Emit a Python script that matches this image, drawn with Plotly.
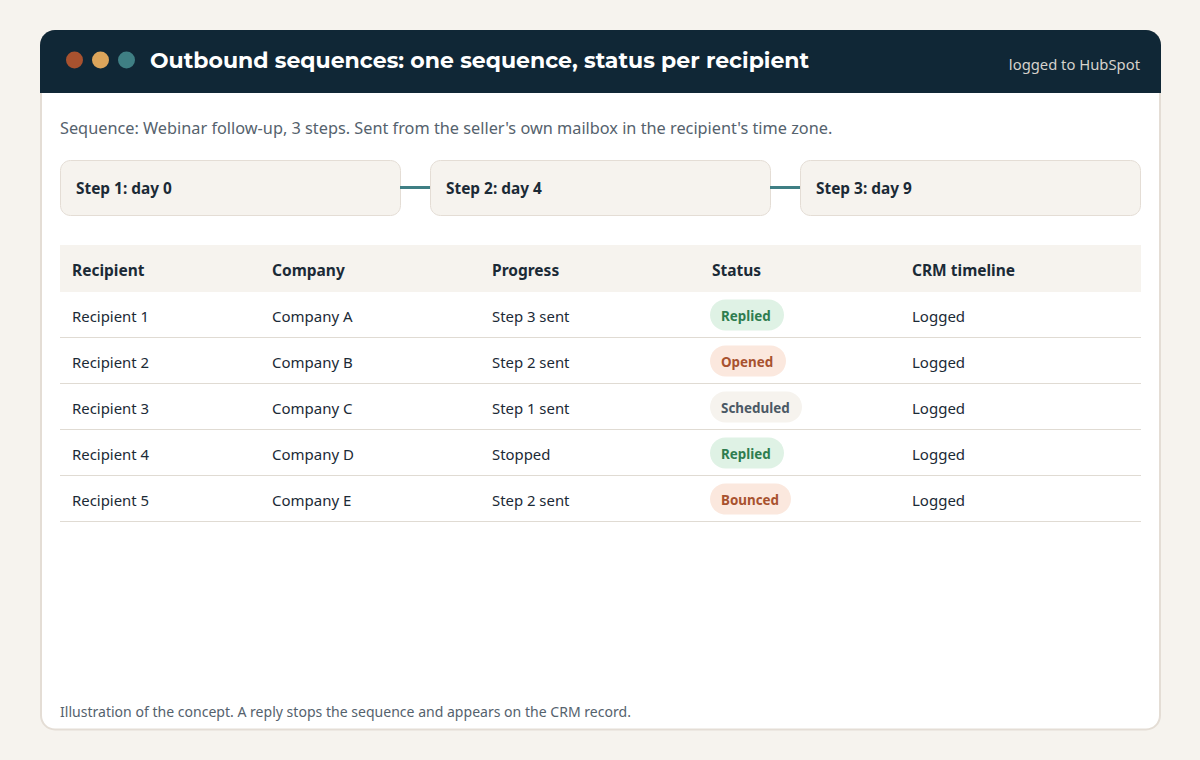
import plotly.graph_objects as go

TITLE = "Outbound sequences: one sequence, status per recipient"
BADGE = "logged to HubSpot"
SUBTITLE = "Sequence: Webinar follow-up, 3 steps. Sent from the seller's own mailbox in the recipient's time zone."
FOOTNOTE = "Illustration of the concept. A reply stops the sequence and appears on the CRM record."
STEPS = ["Step 1: day 0", "Step 2: day 4", "Step 3: day 9"]
HEADERS = ["Recipient", "Company", "Progress", "Status", "CRM timeline"]
RECIPIENTS = ["Recipient 1", "Recipient 2", "Recipient 3", "Recipient 4", "Recipient 5"]
COMPANIES = ["Company A", "Company B", "Company C", "Company D", "Company E"]
PROGRESS = ["Step 3 sent", "Step 2 sent", "Step 1 sent", "Stopped", "Step 2 sent"]
STATUS = ["Replied", "Opened", "Scheduled", "Replied", "Bounced"]
CRM = ["Logged", "Logged", "Logged", "Logged", "Logged"]

BG = "#f6f3ee"; BORDER = "#e4ddd5"; NAVY = "#102736"; INK = "#1b2a36"; MUTED = "#55626d"
RUST = "#a8522f"; SAND = "#dca55b"; TEAL = "#3f7f84"
PILL = {"Replied": ("#dff2e5", "#2e7d4f", 74), "Opened": ("#fbe8de", "#a8522f", 76),
        "Scheduled": ("#f6f3ee", "#4b5965", 92), "Bounced": ("#fbe8de", "#a8522f", 81)}
BODY = "Noto Sans, sans-serif"
HEAD = "Montserrat, Noto Sans, sans-serif"
K = 0.4477


def rr(x0, y0, x1, y1, r, top_only=False):
    k = K * r
    b = (f"L{x1},{y1} L{x0},{y1} " if top_only else
         f"L{x1},{y1-r} C{x1},{y1-k} {x1-k},{y1} {x1-r},{y1} L{x0+r},{y1} C{x0+k},{y1} {x0},{y1-k} {x0},{y1-r} ")
    return (f"M{x0},{y0+r} C{x0},{y0+k} {x0+k},{y0} {x0+r},{y0} L{x1-r},{y0} C{x1-k},{y0} {x1},{y0+k} {x1},{y0+r} " + b + "Z")


shapes = []
def path(d, fill, line=None, w=1):
    shapes.append(dict(type="path", path=d, xref="x", yref="y", fillcolor=fill, layer="below",
                       line=dict(color=line or "rgba(0,0,0,0)", width=w if line else 0)))
def rect(x0, y0, x1, y1, fill):
    shapes.append(dict(type="rect", x0=x0, y0=y0, x1=x1, y1=y1, xref="x", yref="y", fillcolor=fill,
                       layer="below", line=dict(width=0)))

path(rr(41, 31, 1160, 729.5, 14), "#ffffff", BORDER, 2)
path(rr(40, 30, 1161, 93, 15, True), NAVY)
for cx, c in zip([74.5, 100.5, 126.5], [RUST, SAND, TEAL]):
    shapes.append(dict(type="circle", x0=cx - 8.5, y0=51.5, x1=cx + 8.5, y1=68.5, xref="x", yref="y",
                       fillcolor=c, layer="below", line=dict(width=0)))

step_x = [60, 430, 800]
for i, s in enumerate(STEPS):
    x = step_x[i]
    path(rr(x + .5, 160.5, x + 340.5, 215.5, 10), BG, BORDER, 1)
    if i < 2:
        rect(x + 340, 186, x + 370, 189, TEAL)

rect(60, 245, 1141, 292, BG)
row_top = 292; row_h = 46
for i in range(len(RECIPIENTS)):
    rect(60, row_top + (i + 1) * row_h - 1, 1141, row_top + (i + 1) * row_h, "#e0dbd3")
    w = PILL[STATUS[i]][2]
    path(rr(710, row_top + i * row_h + 7.5, 710 + w, row_top + i * row_h + 38.5, 15.5), PILL[STATUS[i]][0])

fig = go.Figure()
col_x = [72, 272, 492, 712, 912]
def column(x, y, text, color=INK, size=15, weight=400):
    fig.add_trace(go.Scatter(x=x, y=y, text=text, mode="text", textposition="middle right",
                             textfont=dict(family=BODY, size=size, color=color, weight=weight),
                             hoverinfo="skip", showlegend=False))

row_y = [row_top + i * row_h + 26 for i in range(5)]
column(col_x, [272.5] * 5, HEADERS, size=15.5, weight=700)
column([col_x[0]] * 5, row_y, RECIPIENTS, size=14.9)
column([col_x[1]] * 5, row_y, COMPANIES)
column([col_x[2]] * 5, row_y, PROGRESS, size=14.9)
column([col_x[4]] * 5, row_y, CRM)
for i, s in enumerate(STATUS):
    column([721], [row_y[i]], [s], PILL[s][1], 13.4, 700)
column([x + 16 for x in step_x], [190.5] * 3, STEPS, size=15.4, weight=700)
column([60], [130], [SUBTITLE], MUTED, 16.3)
column([60], [713.5], [FOOTNOTE], MUTED, 14.05)
fig.add_trace(go.Scatter(x=[150], y=[62], text=[TITLE], mode="text", textposition="middle right",
                         textfont=dict(family=HEAD, size=22.03, color="#ffffff", weight=700),
                         hoverinfo="skip", showlegend=False))
fig.add_trace(go.Scatter(x=[1140], y=[66], text=[BADGE], mode="text", textposition="middle left",
                         textfont=dict(family=BODY, size=14.8, color="#d6d2cc"),
                         hoverinfo="skip", showlegend=False))

fig.update_layout(width=1200, height=760, margin=dict(l=0, r=0, t=0, b=0), paper_bgcolor=BG,
                  plot_bgcolor=BG, shapes=shapes, showlegend=False,
                  xaxis=dict(range=[0, 1200], visible=False, fixedrange=True),
                  yaxis=dict(range=[760, 0], visible=False, fixedrange=True))
fig.write_html("out.html", config=dict(displayModeBar=False),
               post_script="document.body.style.margin='0';document.body.style.background='#f6f3ee';")
